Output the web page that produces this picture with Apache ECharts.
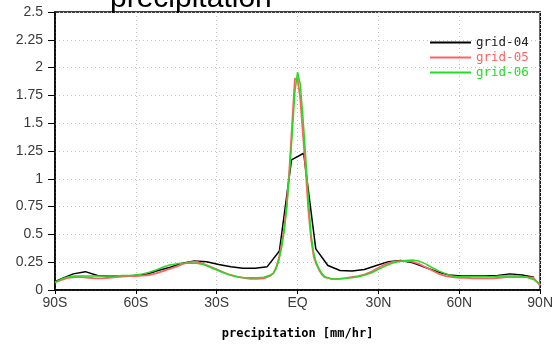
<!DOCTYPE html>
<html>
<head>
<meta charset="utf-8">
<script src="https://cdn.jsdelivr.net/npm/echarts@6/dist/echarts.min.js"></script>
<style>
  html, body { margin: 0; padding: 0; background: #fff; }
  #chart { width: 556px; height: 345px; }
</style>
</head>
<body>
<div id="chart"></div>
<script>
// Zonal-mean precipitation (mm/hr) against latitude for three grid levels.

const xTickLabels = ['90S', '60S', '30S', 'EQ', '30N', '60N', '90N'];

// grid-04: coarse grid, 4.5 degree spacing
const latGrid04 = [-90, -87.75, -83.25, -78.75, -74.25, -69.75, -65.25, -60.75, -56.25, -51.75,
  -47.25, -42.75, -38.25, -33.75, -29.25, -24.75, -20.25, -15.75, -11.25, -6.75,
  -2.25, 2.25, 6.75, 11.25, 15.75, 20.25, 24.75, 29.25, 33.75, 38.25,
  42.75, 47.25, 51.75, 56.25, 60.75, 65.25, 69.75, 74.25, 78.75, 83.25, 87.75];
const grid04 = [0.075, 0.10, 0.145, 0.165, 0.13, 0.125, 0.125, 0.13, 0.14, 0.175,
  0.205, 0.24, 0.26, 0.255, 0.23, 0.21, 0.195, 0.195, 0.21, 0.35,
  1.17, 1.23, 0.37, 0.22, 0.175, 0.17, 0.185, 0.22, 0.255, 0.265,
  0.245, 0.205, 0.165, 0.135, 0.125, 0.125, 0.125, 0.13, 0.145, 0.135, 0.115];

// grid-05 and grid-06 share a finer latitude sampling
const latFine = [-90, -87.5, -85, -82.5, -80, -77.5, -75, -72.5, -70, -67.5,
  -65, -62.5, -60, -57.5, -55, -52.5, -50, -47.5, -45, -42.5,
  -40, -37.5, -35, -32.5, -30, -27.5, -25, -22.5, -20, -17.5,
  -15, -12.5, -10, -9, -8, -7, -6, -5, -4, -3,
  -2, -1, 0, 1, 2, 3, 4, 5, 6, 7,
  8, 9, 10, 12.5, 15, 17.5, 20, 22.5, 25, 27.5,
  30, 32.5, 35, 37.5, 40, 42.5, 45, 47.5, 50, 52.5,
  55, 57.5, 60, 62.5, 65, 67.5, 70, 72.5, 75, 77.5,
  80, 82.5, 85, 87.5, 90];

const grid05 = [0.07, 0.09, 0.11, 0.115, 0.115, 0.11, 0.105, 0.105, 0.11, 0.115,
  0.12, 0.125, 0.125, 0.13, 0.135, 0.15, 0.17, 0.19, 0.21, 0.235,
  0.25, 0.255, 0.235, 0.21, 0.185, 0.16, 0.135, 0.12, 0.11, 0.10,
  0.10, 0.105, 0.13, 0.15, 0.20, 0.28, 0.40, 0.55, 0.78, 1.10,
  1.50, 1.90, 1.90, 1.72, 1.40, 1.08, 0.72, 0.46, 0.30, 0.23,
  0.18, 0.14, 0.115, 0.10, 0.10, 0.105, 0.115, 0.125, 0.14, 0.165,
  0.20, 0.23, 0.25, 0.26, 0.26, 0.255, 0.235, 0.205, 0.175, 0.145,
  0.125, 0.115, 0.11, 0.11, 0.105, 0.105, 0.105, 0.105, 0.11, 0.115,
  0.115, 0.115, 0.115, 0.11, 0.04];

const grid06 = [0.065, 0.10, 0.12, 0.125, 0.125, 0.125, 0.125, 0.125, 0.125, 0.125,
  0.13, 0.13, 0.135, 0.145, 0.16, 0.18, 0.205, 0.225, 0.235, 0.24,
  0.24, 0.24, 0.23, 0.205, 0.18, 0.155, 0.135, 0.12, 0.11, 0.11,
  0.11, 0.115, 0.135, 0.15, 0.19, 0.26, 0.37, 0.52, 0.74, 1.05,
  1.40, 1.78, 1.96, 1.85, 1.55, 1.20, 0.82, 0.50, 0.33, 0.24,
  0.19, 0.15, 0.12, 0.10, 0.10, 0.105, 0.11, 0.12, 0.135, 0.155,
  0.185, 0.215, 0.24, 0.255, 0.265, 0.27, 0.26, 0.235, 0.20, 0.17,
  0.145, 0.125, 0.12, 0.12, 0.12, 0.12, 0.12, 0.12, 0.125, 0.125,
  0.125, 0.125, 0.115, 0.095, 0.055];

const seriesNames = ['grid-04', 'grid-05', 'grid-06'];
const seriesColors = ['#000000', '#ff6262', '#22dd22'];

const pair = (lats, vals) => lats.map((lat, i) => [lat, vals[i]]);

const chart = echarts.init(document.getElementById('chart'), null, { renderer: 'canvas' });

const axisFont = { fontFamily: 'Liberation Sans, Arial, sans-serif', fontSize: 14, color: '#3a3a3a' };
const gridLine = { show: true, lineStyle: { color: '#c4c4c4', type: [1, 3], width: 1 } };

chart.setOption({
  animation: false,
  backgroundColor: '#ffffff',
  grid: {
    left: 55, right: 12, top: 12, bottom: 54,
    show: true, borderColor: '#000', borderWidth: 1.5
  },
  graphic: [
    {
      type: 'text',
      left: 110,
      top: -16,
      style: {
        text: 'precipitation',
        font: '30px "Liberation Sans", Arial, sans-serif',
        fill: '#000'
      }
    }
  ],
  legend: {
    orient: 'vertical',
    left: 430,
    top: 36,
    padding: 0,
    itemWidth: 41,
    itemHeight: 2,
    itemGap: 2,
    icon: 'rect',
    data: seriesNames.map((n, i) => ({
      name: n,
      textStyle: { color: i === 0 ? '#222' : seriesColors[i] }
    })),
    textStyle: {
      fontFamily: 'DejaVu Sans Mono, monospace',
      fontSize: 12.5,
      lineHeight: 12
    }
  },
  xAxis: {
    type: 'value',
    min: -90, max: 90, interval: 30,
    name: 'precipitation [mm/hr]',
    nameLocation: 'middle',
    nameGap: 38,
    nameTextStyle: {
      fontFamily: 'DejaVu Sans Mono, monospace',
      fontWeight: 'bold',
      fontSize: 12,
      color: '#000'
    },
    axisLine: { show: true, onZero: false, lineStyle: { color: '#000', width: 1.5 } },
    axisTick: { show: true, length: 4, lineStyle: { color: '#000' } },
    axisLabel: Object.assign({
      margin: 6,
      formatter: v => xTickLabels[Math.round((v + 90) / 30)]
    }, axisFont),
    splitLine: gridLine
  },
  yAxis: {
    type: 'value',
    min: 0, max: 2.5, interval: 0.25,
    axisLine: { show: true, onZero: false, lineStyle: { color: '#000', width: 1.5 } },
    axisTick: { show: true, length: 7, lineStyle: { color: '#000' } },
    axisLabel: Object.assign({ margin: 12 }, axisFont),
    splitLine: gridLine
  },
  series: [
    {
      name: seriesNames[0], type: 'line', showSymbol: false,
      data: pair(latGrid04, grid04),
      lineStyle: { color: seriesColors[0], width: 1.5 },
      itemStyle: { color: seriesColors[0] }
    },
    {
      name: seriesNames[1], type: 'line', showSymbol: false,
      data: pair(latFine, grid05),
      lineStyle: { color: seriesColors[1], width: 1.8 },
      itemStyle: { color: seriesColors[1] }
    },
    {
      name: seriesNames[2], type: 'line', showSymbol: false,
      data: pair(latFine, grid06),
      lineStyle: { color: seriesColors[2], width: 1.5 },
      itemStyle: { color: seriesColors[2] }
    }
  ]
});
</script>
</body>
</html>
